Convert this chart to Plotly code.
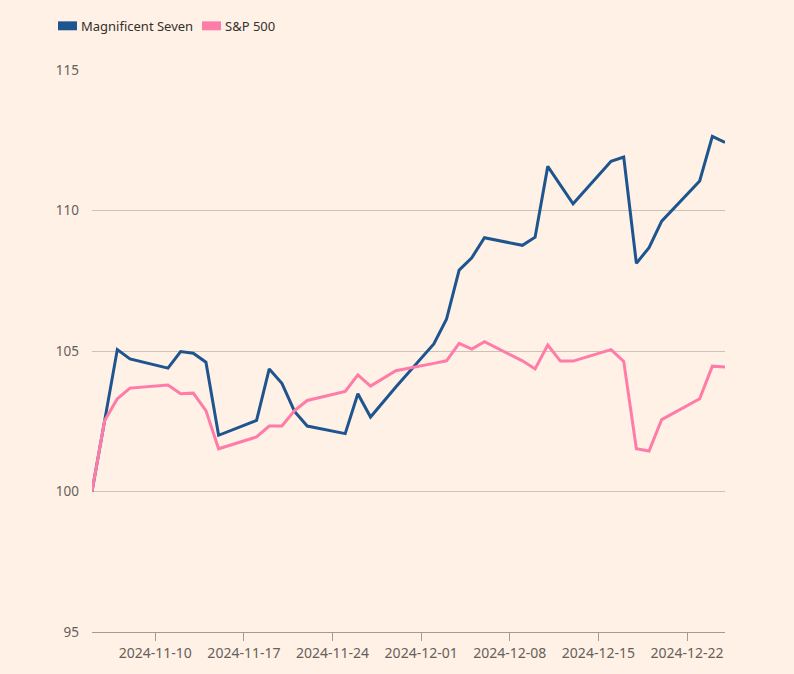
import plotly.graph_objects as go

dates = [
    "2024-11-05", "2024-11-06", "2024-11-07", "2024-11-08",
    "2024-11-11", "2024-11-12", "2024-11-13", "2024-11-14", "2024-11-15",
    "2024-11-18", "2024-11-19", "2024-11-20", "2024-11-21", "2024-11-22",
    "2024-11-25", "2024-11-26", "2024-11-27", "2024-11-29",
    "2024-12-02", "2024-12-03", "2024-12-04", "2024-12-05", "2024-12-06",
    "2024-12-09", "2024-12-10", "2024-12-11", "2024-12-12", "2024-12-13",
    "2024-12-16", "2024-12-17", "2024-12-18", "2024-12-19", "2024-12-20",
    "2024-12-23", "2024-12-24", "2024-12-25",
]

mag7 = [
    100.0, 102.55, 105.05, 104.72,
    104.39, 104.98, 104.92, 104.6, 102.0,
    102.53, 104.36, 103.85, 102.85, 102.33,
    102.06, 103.48, 102.65, 103.72,
    105.25, 106.13, 107.88, 108.32, 109.03,
    108.76, 109.05, 111.57, 110.9, 110.24,
    111.75, 111.9, 108.12, 108.68, 109.62,
    111.05, 112.64, 112.42,
]

spx = [
    100.0, 102.53, 103.3, 103.68,
    103.79, 103.48, 103.5, 102.88, 101.52,
    101.94, 102.33, 102.33, 102.88, 103.24,
    103.56, 104.15, 103.75, 104.3,
    104.56, 104.65, 105.27, 105.07, 105.33,
    104.65, 104.36, 105.21, 104.64, 104.64,
    105.05, 104.63, 101.52, 101.44, 102.56,
    103.3, 104.46, 104.43,
]

series_names = ["Magnificent Seven", "S&P 500"]
series_colors = ["#1E558F", "#FF7BA8"]
y_ticks = [95, 100, 105, 110, 115]
x_ticks = ["2024-11-10", "2024-11-17", "2024-11-24", "2024-12-01",
           "2024-12-08", "2024-12-15", "2024-12-22"]

BG = "#FFF1E5"
FONT = "Noto Sans"

fig = go.Figure()
for name, vals, col in zip(series_names, [mag7, spx], series_colors):
    fig.add_trace(go.Scatter(
        x=dates, y=vals, name=name, mode="lines",
        line=dict(color=col, width=3), showlegend=False,
        hoverinfo="skip",
    ))

# Legend drawn as swatches + text
for i, (name, col) in enumerate(zip(series_names, series_colors)):
    x0 = [58, 202][i]
    fig.add_shape(type="rect", xref="paper", yref="paper",
                  x0=(x0 - 92) / 633, x1=(x0 + 19 - 92) / 633,
                  y0=(636 - 30) / 566, y1=(636 - 21) / 566,
                  line=dict(width=0), fillcolor=col, layer="above")
    fig.add_annotation(xref="paper", yref="paper",
                       x=(x0 + 21 - 92) / 633, y=(636 - 26) / 566,
                       text=name, showarrow=False, xanchor="left",
                       yanchor="middle",
                       font=dict(family=FONT, size=13, color="#33302E"))

fig.update_layout(
    width=794, height=674,
    paper_bgcolor=BG, plot_bgcolor=BG,
    margin=dict(l=92, r=69, t=70, b=38),
    font=dict(family=FONT, size=13, color="#66605C"),
    xaxis=dict(
        type="date",
        range=["2024-11-05", "2024-12-25"],
        tickvals=x_ticks, ticktext=x_ticks,
        showgrid=False, zeroline=False,
        showline=True, linecolor="#A39C95", linewidth=1,
        ticks="outside", ticklen=8, tickcolor="#A39C95",
        tickfont=dict(family=FONT, size=14, color="#66605C"),
    ),
    yaxis=dict(
        range=[95, 115],
        tickvals=y_ticks,
        showgrid=True, gridcolor="#CEC2B8", gridwidth=1,
        zeroline=False, showline=False,
        ticks="", ticklabelstandoff=12,
        tickfont=dict(family=FONT, size=13.5, color="#66605C"),
    ),
)

fig.write_html(
    "out.html",
    config={"displayModeBar": False},
    post_script="document.body.style.margin='0';"
                "document.body.style.background='#FFF1E5';",
)
